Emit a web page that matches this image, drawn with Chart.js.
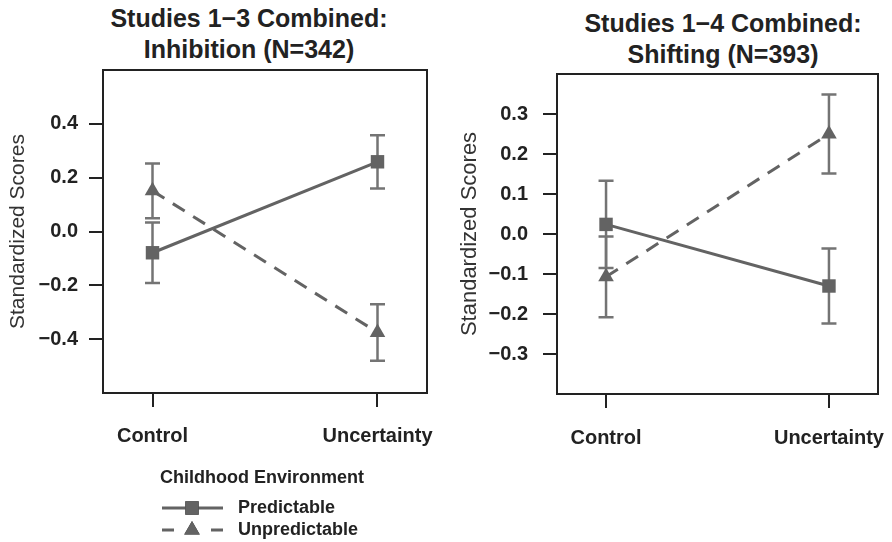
<!DOCTYPE html>
<html>
<head>
<meta charset="utf-8">
<script src="https://cdn.jsdelivr.net/npm/chart.js@4"></script>
<style>
  body { margin: 0; background: #fff; width: 892px; height: 542px; position: relative; overflow: hidden; font-family: 'Liberation Sans', Arial, sans-serif; }
  canvas { position: absolute; top: 0; }
  .ttl { position: absolute; font-weight: bold; font-size: 25px; line-height: 31px; color: #222; text-align: center; width: 400px; white-space: nowrap; }
</style>
</head>
<body>
<div class="ttl" id="t1" style="left:49px; top:3px;">Studies 1−3 Combined:<br>Inhibition (N=342)</div>
<div class="ttl" id="t2" style="left:523px; top:8px;">Studies 1−4 Combined:<br>Shifting (N=393)</div>
<canvas id="left" width="446" height="542" style="left:0"></canvas>
<canvas id="right" width="446" height="542" style="left:446px"></canvas>
<script>
// data
const categories = ['Control', 'Uncertainty'];
const seriesNames = ['Predictable', 'Unpredictable'];

const inhibPred = [-0.079, 0.259];
const inhibPredErr = [0.112, 0.099];
const inhibUnpred = [0.151, -0.375];
const inhibUnpredErr = [0.102, 0.105];
const inhibTicks = [-0.4, -0.2, 0, 0.2, 0.4];

const shiftPred = [0.024, -0.13];
const shiftPredErr = [0.109, 0.094];
const shiftUnpred = [-0.107, 0.25];
const shiftUnpredErr = [0.101, 0.099];
const shiftTicks = [-0.3, -0.2, -0.1, 0, 0.1, 0.2, 0.3];

const LINE = '#636363';
const BAR = '#747474';
const INK = '#222';

Chart.defaults.font.family = "'Liberation Sans', Arial, sans-serif";
Chart.defaults.color = INK;

function pts(vals) {
    return vals.map((v, i) => ({ x: i + 1, y: v }));
}

function fmt(v) {
    return Number(v).toFixed(1).replace('-', '\u2212');
}

const boxPlugin = {
    id: 'box',
    afterDraw(chart) {
        const a = chart.chartArea, ctx = chart.ctx;
        ctx.save();
        ctx.strokeStyle = INK;
        ctx.lineWidth = 2;
        ctx.strokeRect(a.left, a.top, a.right - a.left, a.bottom - a.top);
        ctx.restore();
    }
};

const errPlugin = {
    id: 'errbars',
    beforeDatasetsDraw(chart) {
        const ctx = chart.ctx, xs = chart.scales.x, ys = chart.scales.y;
        ctx.save();
        ctx.strokeStyle = BAR;
        ctx.lineWidth = 2.5;
        chart.data.datasets.forEach(ds => {
            ds.data.forEach((p, i) => {
                const e = ds.errorBars[i];
                const x = xs.getPixelForValue(p.x);
                const y1 = ys.getPixelForValue(p.y + e), y2 = ys.getPixelForValue(p.y - e);
                ctx.beginPath();
                ctx.moveTo(x, y1); ctx.lineTo(x, y2);
                ctx.moveTo(x - 7.5, y1); ctx.lineTo(x + 7.5, y1);
                ctx.moveTo(x - 7.5, y2); ctx.lineTo(x + 7.5, y2);
                ctx.stroke();
            });
        });
        ctx.restore();
    }
};

const legendPlugin = {
    id: 'envLegend',
    afterDraw(chart) {
        const ctx = chart.ctx;
        ctx.save();
        ctx.fillStyle = INK;
        ctx.font = "bold 18px 'Liberation Sans', Arial, sans-serif";
        ctx.textBaseline = 'alphabetic';
        ctx.fillText('Childhood Environment', 160, 483);
        const rows = [508, 530];
        chart.data.datasets.forEach((ds, i) => {
            const y = rows[i];
            ctx.strokeStyle = ds.borderColor;
            ctx.lineWidth = ds.borderWidth;
            ctx.setLineDash(ds.borderDash && ds.borderDash.length ? [12, 37] : []);
            ctx.beginPath();
            ctx.moveTo(162, y); ctx.lineTo(223, y);
            ctx.stroke();
            ctx.setLineDash([]);
            Chart.helpers.drawPoint(ctx, { pointStyle: ds.pointStyle, radius: ds.pointRadius, borderWidth: 0 }, 192, y);
            ctx.fillStyle = ds.pointBackgroundColor;
            ctx.fill();
            ctx.fillStyle = INK;
            ctx.fillText(ds.label, 238, y + 5);
        });
        ctx.restore();
    }
};

function makeDatasets(pred, predErr, unpred, unpredErr) {
    return [
        {
            label: seriesNames[0], data: pts(pred), errorBars: predErr,
            borderColor: LINE, borderWidth: 3, borderDash: [],
            pointStyle: 'rect', pointRadius: 9.5, pointBackgroundColor: LINE, pointBorderWidth: 0
        },
        {
            label: seriesNames[1], data: pts(unpred), errorBars: unpredErr,
            borderColor: LINE, borderWidth: 3, borderDash: [14, 10],
            pointStyle: 'triangle', pointRadius: 9, pointBackgroundColor: LINE, pointBorderWidth: 0
        }
    ];
}

function makeChart(id, datasets, yMin, yMax, yTicks, cfg) {
    return new Chart(document.getElementById(id), {
        type: 'line',
        data: { datasets },
        options: {
            responsive: false,
            animation: false,
            events: [],
            layout: { padding: cfg.padding },
            plugins: { legend: { display: false }, tooltip: { enabled: false } },
            elements: { line: { tension: 0 } },
            scales: {
                x: {
                    type: 'linear', position: 'bottom', min: 0.78, max: 2.22,
                    afterBuildTicks: s => { s.ticks = categories.map((c, i) => ({ value: i + 1 })); },
                    afterFit: s => { s.height = 60; s.paddingLeft = 0; s.paddingRight = 0; },
                    ticks: { callback: v => categories[v - 1], font: { size: 20, weight: 'bold' }, padding: cfg.xPad, color: INK, maxRotation: 0 },
                    grid: { drawOnChartArea: false, drawTicks: true, tickLength: 14, color: INK, lineWidth: 2 },
                    border: { display: true, color: INK, width: 2 }
                },
                y: {
                    type: 'linear', min: yMin, max: yMax,
                    afterBuildTicks: s => { s.ticks = yTicks.map(v => ({ value: v })); },
                    afterFit: s => { s.width = cfg.yWidth; s.paddingTop = 0; s.paddingBottom = 0; },
                    ticks: { callback: v => fmt(v), font: { size: 20, weight: 'bold' }, padding: cfg.yPad, color: INK },
                    grid: { drawOnChartArea: false, drawTicks: true, tickLength: 14, color: INK, lineWidth: 2 },
                    border: { display: true, color: INK, width: 2 },
                    title: { display: true, text: 'Standardized Scores', font: { size: cfg.titleSize }, color: '#333', padding: { top: cfg.titlePad, bottom: 0 } }
                }
            }
        },
        plugins: cfg.extra
    });
}

makeChart('left', makeDatasets(inhibPred, inhibPredErr, inhibUnpred, inhibUnpredErr), -0.6, 0.6, inhibTicks, {
    padding: { top: 70, right: 19, bottom: 89, left: 0 },
    yWidth: 103, yPad: 11, xPad: 17, titlePad: 6, titleSize: 21,
    extra: [errPlugin, boxPlugin, legendPlugin]
});

makeChart('right', makeDatasets(shiftPred, shiftPredErr, shiftUnpred, shiftUnpredErr), -0.4, 0.4, shiftTicks, {
    padding: { top: 74, right: 14, bottom: 88, left: 0 },
    yWidth: 111, yPad: 15, xPad: 18, titlePad: 11, titleSize: 22,
    extra: [errPlugin, boxPlugin]
});
</script>
</body>
</html>
